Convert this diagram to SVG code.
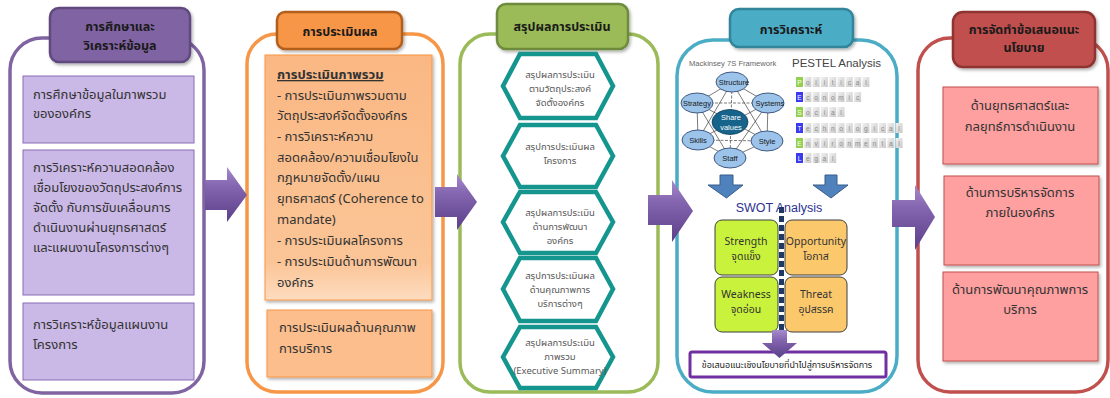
<svg xmlns="http://www.w3.org/2000/svg" width="1110" height="398" viewBox="0 0 1110 398">
<defs>
<linearGradient id="gArrow" x1="0" y1="0" x2="0" y2="1">
<stop offset="0" stop-color="#A58BCB"/><stop offset="0.35" stop-color="#8465B0"/><stop offset="1" stop-color="#5B3F88"/>
</linearGradient>
<linearGradient id="gOrange" x1="0" y1="0" x2="0" y2="1">
<stop offset="0" stop-color="#FAB783"/><stop offset="0.85" stop-color="#FBC597"/><stop offset="1" stop-color="#FDDCC0"/>
</linearGradient>
<linearGradient id="gCell" x1="0" y1="0" x2="1" y2="1">
<stop offset="0" stop-color="#F2F2F2"/><stop offset="1" stop-color="#C9C9C9"/>
</linearGradient>
<filter id="sh" x="-10%" y="-10%" width="125%" height="130%">
<feDropShadow dx="1.5" dy="2" stdDeviation="1.5" flood-color="#000" flood-opacity="0.3"/>
</filter>
</defs>
<style>
.th{font-family:"Noto Sans Thai","Noto Sans","Liberation Sans","DejaVu Sans",sans-serif;}
.body{font-size:13px;fill:#333;}
.title{font-size:12.5px;font-weight:bold;fill:#1a1a1a;text-anchor:middle;}
.hex{fill:#fff;stroke:#14968F;stroke-width:4.5;stroke-linejoin:miter;}
.hext{font-size:9.5px;fill:#595959;text-anchor:middle;}
.outer{fill:#fff;stroke-width:3.5;}
.arrow{fill:url(#gArrow);}
.ms{fill:#9CC3EA;stroke:#1F3864;stroke-width:0.8;}
.mst{font-family:"Liberation Sans",sans-serif;font-size:7.5px;fill:#1a1a1a;text-anchor:middle;}
.cell{fill:url(#gCell);}
.cl{font-family:"Liberation Sans",sans-serif;font-size:6.5px;fill:#8c8c8c;text-anchor:middle;}
.swt{font-family:"Noto Sans Thai","Liberation Sans",sans-serif;font-size:10.5px;fill:#333;text-anchor:middle;}
</style>

<!-- Column 1 -->
<g id="col1">
<rect class="outer" x="10" y="38" width="194" height="355" rx="32" stroke="#8064A2"/>
<g id="col1-title" filter="url(#sh)">
<rect x="50" y="8" width="140" height="54" rx="9" fill="#8064A2" stroke="#5F4A7E" stroke-width="2.5"/>
</g>
<text class="th title" x="120" y="31">การศึกษาและ</text>
<text class="th title" x="120" y="50">วิเคราะห์ข้อมูล</text>
<g id="col1-b1"><rect x="23" y="76" width="171" height="67" fill="#CAB8E6" stroke="#8A6DB5" stroke-width="1"/>
<text class="th body" x="33" y="99">การศึกษาข้อมูลในภาพรวม</text>
<text class="th body" x="33" y="118">ขององค์กร</text></g>
<g id="col1-b2"><rect x="23" y="150" width="171" height="145" fill="#CAB8E6" stroke="#8A6DB5" stroke-width="1"/>
<text class="th body" x="33" y="172">การวิเคราะห์ความสอดคล้อง</text>
<text class="th body" x="33" y="192">เชื่อมโยงของวัตถุประสงค์การ</text>
<text class="th body" x="33" y="212">จัดตั้ง กับการขับเคลื่อนการ</text>
<text class="th body" x="33" y="232">ดำเนินงานผ่านยุทธศาสตร์</text>
<text class="th body" x="33" y="252">และแผนงานโครงการต่างๆ</text></g>
<g id="col1-b3"><rect x="23" y="303" width="171" height="77" fill="#CAB8E6" stroke="#8A6DB5" stroke-width="1"/>
<text class="th body" x="33" y="329">การวิเคราะห์ข้อมูลแผนงาน</text>
<text class="th body" x="33" y="349">โครงการ</text></g>
</g>

<!-- Column 2 -->
<g id="col2">
<rect class="outer" x="247" y="34" width="196" height="358" rx="30" stroke="#F79646"/>
<g filter="url(#sh)"><rect x="277" y="12" width="125" height="37" rx="8" fill="#F79646" stroke="#B35F1E" stroke-width="2.5"/></g>
<text class="th title" x="340" y="36" font-size="13.5">การประเมินผล</text>
<g id="col2-b1"><rect x="265" y="55" width="167" height="245" fill="url(#gOrange)" stroke="#F79646" stroke-width="1" filter="url(#sh)"/>
<text class="th body" x="277" y="79" font-weight="bold" text-decoration="underline">การประเมินภาพรวม</text>
<text class="th body" x="277" y="100">- การประเมินภาพรวมตาม</text>
<text class="th body" x="277" y="120">วัตถุประสงค์จัดตั้งองค์กร</text>
<text class="th body" x="277" y="141">- การวิเคราะห์ความ</text>
<text class="th body" x="277" y="162">สอดคล้อง/ความเชื่อมโยงใน</text>
<text class="th body" x="277" y="182">กฎหมายจัดตั้ง/แผน</text>
<text class="th body" x="277" y="203">ยุทธศาสตร์ (Coherence to</text>
<text class="th body" x="277" y="224">mandate)</text>
<text class="th body" x="277" y="245">- การประเมินผลโครงการ</text>
<text class="th body" x="277" y="266">- การประเมินด้านการพัฒนา</text>
<text class="th body" x="277" y="287">องค์กร</text></g>
<g id="col2-b2"><rect x="267" y="310" width="165" height="67" fill="#FBBE8C" stroke="#F79646" stroke-width="1" filter="url(#sh)"/>
<text class="th body" x="279" y="332">การประเมินผลด้านคุณภาพ</text>
<text class="th body" x="279" y="353">การบริการ</text></g>
</g>

<!-- Column 3 -->
<g id="col3">
<rect class="outer" x="460" y="34" width="198" height="358" rx="30" stroke="#9BBB59"/>
<g filter="url(#sh)"><rect x="497" y="4" width="131" height="45" rx="9" fill="#9BBB59" stroke="#6E8B3D" stroke-width="2.5"/></g>
<text class="th title" x="562" y="31" font-size="14">สรุปผลการประเมิน</text>
<g id="hex1"><path class="hex" d="M503,86 L520,54 L596,54 L613,86 L596,118 L520,118 Z"/>
<text class="th hext" x="560" y="78">สรุปผลการประเมิน</text>
<text class="th hext" x="560" y="92">ตามวัตถุประสงค์</text>
<text class="th hext" x="560" y="106">จัดตั้งองค์กร</text></g>
<g id="hex2"><path class="hex" d="M503,156 L520,125 L596,125 L613,156 L596,187 L520,187 Z"/>
<text class="th hext" x="560" y="150">สรุปการประเมินผล</text>
<text class="th hext" x="560" y="164">โครงการ</text></g>
<g id="hex3"><path class="hex" d="M503,222 L520,192 L596,192 L613,222 L596,253 L520,253 Z"/>
<text class="th hext" x="560" y="216">สรุปผลการประเมิน</text>
<text class="th hext" x="560" y="230">ด้านการพัฒนา</text>
<text class="th hext" x="560" y="244">องค์กร</text></g>
<g id="hex4"><path class="hex" d="M503,289 L520,258 L596,258 L613,289 L596,321 L520,321 Z"/>
<text class="th hext" x="560" y="279">สรุปการประเมินผล</text>
<text class="th hext" x="560" y="293">ด้านคุณภาพการ</text>
<text class="th hext" x="560" y="307">บริการต่างๆ</text></g>
<g id="hex5"><path class="hex" d="M503,357 L520,327 L596,327 L613,357 L596,388 L520,388 Z"/>
<text class="th hext" x="560" y="346">สรุปผลการประเมิน</text>
<text class="th hext" x="560" y="360">ภาพรวม</text>
<text class="th hext" x="560" y="374">(Executive Summary)</text></g>
</g>

<!-- Column 4 -->
<g id="col4">
<rect class="outer" x="677" y="40" width="220" height="352" rx="36" stroke="#4BACC6"/>
<g filter="url(#sh)"><rect x="730" y="9" width="123" height="38" rx="9" fill="#4BACC6" stroke="#31849B" stroke-width="2.5"/></g>
<text class="th title" x="791" y="34" font-size="14">การวิเคราะห์</text>
<text x="689" y="66" font-family="Liberation Sans, sans-serif" font-size="7.6" fill="#666">Mackinsey 7S Framework</text>
<g id="mck-lines" stroke="#222" stroke-width="0.6" fill="none">
<path d="M732,82 L768,103 L767,141 L730,158 L698,140 L697,103 Z"/>
<path d="M697,103 L768,103 M698,140 L767,141 M732,82 L730,158" stroke-dasharray="3 1.5"/>
<path d="M732,82 L767,141 M732,82 L698,140 M768,103 L730,158 M768,103 L698,140 M767,141 L697,103 M730,158 L697,103"/>
</g>
<g id="mck-structure"><ellipse class="ms" cx="732" cy="82" rx="16" ry="10"/><text class="mst" x="734" y="85">Structure</text></g>
<g id="mck-strategy"><ellipse class="ms" cx="697" cy="103" rx="16" ry="10"/><text class="mst" x="697" y="106">Strategy</text></g>
<g id="mck-systems"><ellipse class="ms" cx="768" cy="103" rx="16" ry="10"/><text class="mst" x="770" y="106">Systems</text></g>
<g id="mck-shared"><ellipse cx="730" cy="122" rx="18" ry="12.5" fill="#16648C" stroke="#0E3F5A" stroke-width="0.8"/><text class="mst" x="731" y="120" style="fill:#fff">Share</text><text class="mst" style="fill:#fff" x="731" y="130">values</text></g>
<g id="mck-skills"><ellipse class="ms" cx="698" cy="140" rx="16" ry="10"/><text class="mst" x="698" y="143">Skills</text></g>
<g id="mck-style"><ellipse class="ms" cx="767" cy="141" rx="16" ry="10"/><text class="mst" x="767" y="144">Style</text></g>
<g id="mck-staff"><ellipse class="ms" cx="730" cy="158" rx="16" ry="10"/><text class="mst" x="730" y="161">Staff</text></g>

<text x="792" y="67" font-family="Liberation Sans, sans-serif" font-size="11.5" fill="#444">PESTEL Analysis</text>
<g id="pestel">
<g transform="translate(796,77)">
<rect width="7" height="10" fill="#92D050"/><text class="cl" x="3.5" y="7.5" style="fill:#fff">P</text>
<rect class="cell" x="8.3" width="7" height="10"/><text class="cl" x="11.8" y="7.5">o</text>
<rect class="cell" x="16.6" width="7" height="10"/><text class="cl" x="20.1" y="7.5">l</text>
<rect class="cell" x="24.9" width="7" height="10"/><text class="cl" x="28.4" y="7.5">i</text>
<rect class="cell" x="33.2" width="7" height="10"/><text class="cl" x="36.7" y="7.5">t</text>
<rect class="cell" x="41.5" width="7" height="10"/><text class="cl" x="45" y="7.5">i</text>
<rect class="cell" x="49.8" width="7" height="10"/><text class="cl" x="53.3" y="7.5">c</text>
<rect class="cell" x="58.1" width="7" height="10"/><text class="cl" x="61.6" y="7.5">a</text>
<rect class="cell" x="66.4" width="7" height="10"/><text class="cl" x="69.9" y="7.5">l</text>
</g>
<g transform="translate(796,92)">
<rect width="7" height="10" fill="#3A3AF0"/><text class="cl" x="3.5" y="7.5" style="fill:#fff">E</text>
<rect class="cell" x="8.3" width="7" height="10"/><text class="cl" x="11.8" y="7.5">c</text>
<rect class="cell" x="16.6" width="7" height="10"/><text class="cl" x="20.1" y="7.5">o</text>
<rect class="cell" x="24.9" width="7" height="10"/><text class="cl" x="28.4" y="7.5">n</text>
<rect class="cell" x="33.2" width="7" height="10"/><text class="cl" x="36.7" y="7.5">o</text>
<rect class="cell" x="41.5" width="7" height="10"/><text class="cl" x="45" y="7.5">m</text>
<rect class="cell" x="49.8" width="7" height="10"/><text class="cl" x="53.3" y="7.5">i</text>
<rect class="cell" x="58.1" width="7" height="10"/><text class="cl" x="61.6" y="7.5">c</text>
</g>
<g transform="translate(796,107)">
<rect width="7" height="10" fill="#92D050"/><text class="cl" x="3.5" y="7.5" style="fill:#fff">S</text>
<rect class="cell" x="8.3" width="7" height="10"/><text class="cl" x="11.8" y="7.5">o</text>
<rect class="cell" x="16.6" width="7" height="10"/><text class="cl" x="20.1" y="7.5">c</text>
<rect class="cell" x="24.9" width="7" height="10"/><text class="cl" x="28.4" y="7.5">i</text>
<rect class="cell" x="33.2" width="7" height="10"/><text class="cl" x="36.7" y="7.5">a</text>
<rect class="cell" x="41.5" width="7" height="10"/><text class="cl" x="45" y="7.5">l</text>
</g>
<g transform="translate(796,123)">
<rect width="7" height="10" fill="#3A3AF0"/><text class="cl" x="3.5" y="7.5" style="fill:#fff">T</text>
<rect class="cell" x="8.3" width="7" height="10"/><text class="cl" x="11.8" y="7.5">e</text>
<rect class="cell" x="16.6" width="7" height="10"/><text class="cl" x="20.1" y="7.5">c</text>
<rect class="cell" x="24.9" width="7" height="10"/><text class="cl" x="28.4" y="7.5">h</text>
<rect class="cell" x="33.2" width="7" height="10"/><text class="cl" x="36.7" y="7.5">n</text>
<rect class="cell" x="41.5" width="7" height="10"/><text class="cl" x="45" y="7.5">o</text>
<rect class="cell" x="49.8" width="7" height="10"/><text class="cl" x="53.3" y="7.5">l</text>
<rect class="cell" x="58.1" width="7" height="10"/><text class="cl" x="61.6" y="7.5">o</text>
<rect class="cell" x="66.4" width="7" height="10"/><text class="cl" x="69.9" y="7.5">g</text>
<rect class="cell" x="74.7" width="7" height="10"/><text class="cl" x="78.2" y="7.5">i</text>
<rect class="cell" x="83" width="7" height="10"/><text class="cl" x="86.5" y="7.5">c</text>
<rect class="cell" x="91.3" width="7" height="10"/><text class="cl" x="94.8" y="7.5">a</text>
<rect class="cell" x="99.6" width="7" height="10"/><text class="cl" x="103.1" y="7.5">l</text>
</g>
<g transform="translate(796,138)">
<rect width="7" height="10" fill="#92D050"/><text class="cl" x="3.5" y="7.5" style="fill:#fff">E</text>
<rect class="cell" x="8.3" width="7" height="10"/><text class="cl" x="11.8" y="7.5">n</text>
<rect class="cell" x="16.6" width="7" height="10"/><text class="cl" x="20.1" y="7.5">v</text>
<rect class="cell" x="24.9" width="7" height="10"/><text class="cl" x="28.4" y="7.5">i</text>
<rect class="cell" x="33.2" width="7" height="10"/><text class="cl" x="36.7" y="7.5">r</text>
<rect class="cell" x="41.5" width="7" height="10"/><text class="cl" x="45" y="7.5">o</text>
<rect class="cell" x="49.8" width="7" height="10"/><text class="cl" x="53.3" y="7.5">n</text>
<rect class="cell" x="58.1" width="7" height="10"/><text class="cl" x="61.6" y="7.5">m</text>
<rect class="cell" x="66.4" width="7" height="10"/><text class="cl" x="69.9" y="7.5">e</text>
<rect class="cell" x="74.7" width="7" height="10"/><text class="cl" x="78.2" y="7.5">n</text>
<rect class="cell" x="83" width="7" height="10"/><text class="cl" x="86.5" y="7.5">t</text>
<rect class="cell" x="91.3" width="7" height="10"/><text class="cl" x="94.8" y="7.5">a</text>
<rect class="cell" x="99.6" width="7" height="10"/><text class="cl" x="103.1" y="7.5">l</text>
</g>
<g transform="translate(796,153)">
<rect width="7" height="10" fill="#3A3AF0"/><text class="cl" x="3.5" y="7.5" style="fill:#fff">L</text>
<rect class="cell" x="8.3" width="7" height="10"/><text class="cl" x="11.8" y="7.5">e</text>
<rect class="cell" x="16.6" width="7" height="10"/><text class="cl" x="20.1" y="7.5">g</text>
<rect class="cell" x="24.9" width="7" height="10"/><text class="cl" x="28.4" y="7.5">a</text>
<rect class="cell" x="33.2" width="7" height="10"/><text class="cl" x="36.7" y="7.5">l</text>
</g>
</g>

<text x="779" y="212" font-family="Liberation Sans, sans-serif" font-size="12.5" fill="#2E3192" text-anchor="middle">SWOT Analysis</text>
<g id="swot-s"><rect x="715" y="220" width="63" height="55" rx="7" fill="#C8F23C" stroke="#3F3F3F" stroke-width="1"/>
<text class="swt" x="746" y="245">Strength</text><text class="swt" x="746" y="260">จุดแข็ง</text></g>
<g id="swot-o"><rect x="785" y="220" width="62" height="55" rx="7" fill="#FBC86C" stroke="#3F3F3F" stroke-width="1"/>
<text class="swt" x="816" y="245">Opportunity</text><text class="swt" x="816" y="260">โอกาส</text></g>
<g id="swot-w"><rect x="715" y="277" width="63" height="55" rx="7" fill="#C8F23C" stroke="#3F3F3F" stroke-width="1"/>
<text class="swt" x="746" y="298">Weakness</text><text class="swt" x="746" y="313">จุดอ่อน</text></g>
<g id="swot-t"><rect x="785" y="277" width="62" height="55" rx="7" fill="#FBC86C" stroke="#3F3F3F" stroke-width="1"/>
<text class="swt" x="816" y="298">Threat</text><text class="swt" x="816" y="313">อุปสรรค</text></g>
<line x1="781.5" y1="207" x2="781.5" y2="330" stroke="#1F3864" stroke-width="5" stroke-dasharray="6 3"/>
<g id="policy-box"><rect x="690" y="352" width="196" height="25" rx="2" fill="#fff" stroke="#7030A0" stroke-width="3"/>
<text x="787" y="368" class="th" font-size="9" fill="#222" text-anchor="middle">ข้อเสนอแนะเชิงนโยบายที่นำไปสู่การบริหารจัดการ</text></g>
</g>

<!-- Column 5 -->
<g id="col5">
<rect class="outer" x="918" y="38" width="190" height="354" rx="32" stroke="#C0504D"/>
<g filter="url(#sh)"><rect x="953" y="12" width="142" height="55" rx="10" fill="#C0504D" stroke="#8E3331" stroke-width="2.5"/></g>
<text class="th title" x="1024" y="34">การจัดทำข้อเสนอแนะ</text>
<text class="th title" x="1024" y="52">นโยบาย</text>
<g id="col5-b1"><rect x="943" y="87" width="155" height="77" fill="#FFA0A0" stroke="#C0504D" stroke-width="1" filter="url(#sh)"/>
<text class="th body" x="1020" y="110" text-anchor="middle">ด้านยุทธศาสตร์และ</text>
<text class="th body" x="1020" y="131" text-anchor="middle">กลยุทธ์การดำเนินงาน</text></g>
<g id="col5-b2"><rect x="944" y="176" width="155" height="89" fill="#FFA0A0" stroke="#C0504D" stroke-width="1" filter="url(#sh)"/>
<text class="th body" x="1020" y="197" text-anchor="middle">ด้านการบริหารจัดการ</text>
<text class="th body" x="1020" y="217" text-anchor="middle">ภายในองค์กร</text></g>
<g id="col5-b3"><rect x="943" y="272" width="155" height="89" fill="#FFA0A0" stroke="#C0504D" stroke-width="1" filter="url(#sh)"/>
<text class="th body" x="1020" y="294" text-anchor="middle">ด้านการพัฒนาคุณภาพการ</text>
<text class="th body" x="1020" y="314" text-anchor="middle">บริการ</text></g>
</g>

<!-- Connectors -->
<g id="connectors">
<path class="arrow" d="M205,180 L227,180 L227,167 L247,195 L227,222 L227,210 L205,210 Z"/>
<path class="arrow" d="M435,187 L457,187 L457,174 L477,202 L457,230 L457,217 L435,217 Z"/>
<path class="arrow" d="M648,195 L672,195 L672,180 L693,211 L672,242 L672,225 L648,225 Z"/>
<path class="arrow" d="M892,200 L915,200 L915,185 L935,217 L915,250 L915,227 L892,227 Z"/>
<path d="M720,175 L733,175 L733,185 L743,185 L726.5,198 L708,185 L720,185 Z" fill="#4F81BD" stroke="#385D8A" stroke-width="1"/>
<path d="M825,175 L837,175 L837,185 L848,185 L831,198 L813,185 L825,185 Z" fill="#4F81BD" stroke="#385D8A" stroke-width="1"/>
<path class="arrow" d="M772,330 L787,330 L787,343 L797,343 L779.5,358 L762,343 L772,343 Z"/>
</g>
</svg>
